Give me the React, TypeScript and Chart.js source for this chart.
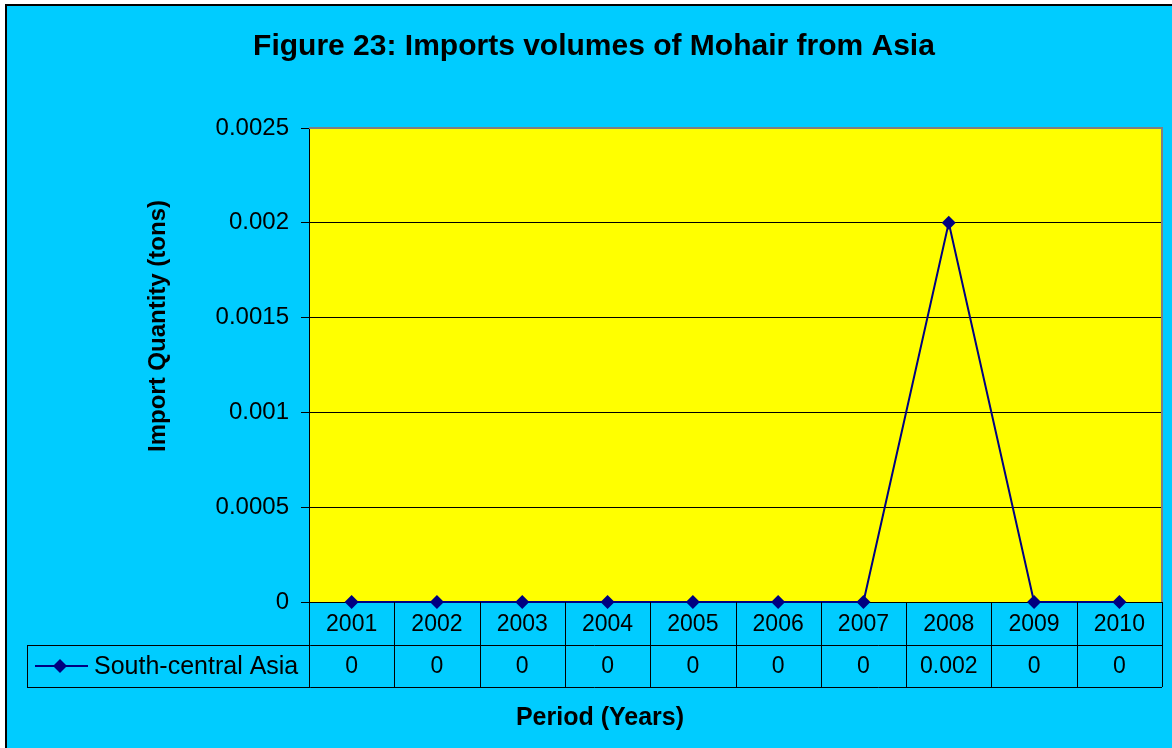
import React, { useEffect, useRef } from "react";
import { Chart, registerables } from "chart.js";

Chart.register(...registerables);

const categories = ["2001", "2002", "2003", "2004", "2005", "2006", "2007", "2008", "2009", "2010"];
const seriesName = "South-central Asia";
const values = [0, 0, 0, 0, 0, 0, 0, 0.002, 0, 0];
const valueLabels = ["0", "0", "0", "0", "0", "0", "0", "0.002", "0", "0"];
const yTickLabels = ["0", "0.0005", "0.001", "0.0015", "0.002", "0.0025"];
const titleText = "Figure 23: Imports volumes of Mohair from Asia";
const yTitle = "Import Quantity (tons)";
const xTitle = "Period (Years)";

const FONT = "'Liberation Sans', Arial, sans-serif";
const BG = "#00CCFF";
const PLOT = "#FFFF00";
const NAVY = "#000080";

const decorPlugin = {
  id: "decor",
  beforeDraw(chart: any) {
    const { ctx, width, height, chartArea } = chart;
    ctx.save();
    ctx.fillStyle = "#FFFFFF";
    ctx.fillRect(0, 0, width, height);
    ctx.fillStyle = BG;
    ctx.fillRect(6, 5, width, height);
    ctx.strokeStyle = "#000000";
    ctx.lineWidth = 2;
    ctx.beginPath();
    ctx.moveTo(6, height + 10);
    ctx.lineTo(6, 5);
    ctx.lineTo(width + 10, 5);
    ctx.stroke();
    ctx.fillStyle = PLOT;
    ctx.fillRect(chartArea.left, chartArea.top, chartArea.right - chartArea.left, chartArea.bottom - chartArea.top);
    ctx.restore();
  },
  afterDraw(chart: any) {
    const { ctx, chartArea } = chart;
    const xs = chart.scales.x;
    ctx.save();
    ctx.strokeStyle = "#808080";
    ctx.lineWidth = 2;
    ctx.beginPath();
    ctx.moveTo(chartArea.left, chartArea.top);
    ctx.lineTo(chartArea.right, chartArea.top);
    ctx.lineTo(chartArea.right, chartArea.bottom);
    ctx.stroke();

    ctx.fillStyle = "#000000";
    ctx.textAlign = "center";
    ctx.textBaseline = "middle";
    ctx.font = `bold 30px ${FONT}`;
    ctx.fillText(titleText, 594, 47);

    ctx.save();
    ctx.translate(158, 326);
    ctx.rotate(-Math.PI / 2);
    ctx.font = `bold 24px ${FONT}`;
    ctx.fillText(yTitle, 0, 0);
    ctx.restore();

    ctx.font = `bold 25px ${FONT}`;
    ctx.fillText(xTitle, 600, 718);

    const n = categories.length;
    const colW = (chartArea.right - chartArea.left) / n;
    const top = chartArea.bottom;
    const r1 = top + 43;
    const r2 = top + 85;
    const tableLeft = 27;
    ctx.strokeStyle = "#000000";
    ctx.lineWidth = 1;
    ctx.beginPath();
    for (let i = 0; i <= n; i++) {
      const x = Math.round(chartArea.left + i * colW) + 0.5;
      ctx.moveTo(x, top);
      ctx.lineTo(x, r2);
    }
    ctx.moveTo(tableLeft + 0.5, r1);
    ctx.lineTo(tableLeft + 0.5, r2);
    ctx.moveTo(tableLeft, r1 + 0.5);
    ctx.lineTo(chartArea.right, r1 + 0.5);
    ctx.moveTo(tableLeft, r2 + 0.5);
    ctx.lineTo(chartArea.right, r2 + 0.5);
    ctx.stroke();

    ctx.font = `23px ${FONT}`;
    ctx.fillStyle = "#000000";
    for (let i = 0; i < n; i++) {
      const cx = xs.getPixelForValue(i);
      ctx.fillText(categories[i], cx, (top + r1) / 2 + 1);
      ctx.fillText(valueLabels[i], cx, (r1 + r2) / 2 + 1);
    }

    const ly = (r1 + r2) / 2;
    ctx.strokeStyle = NAVY;
    ctx.lineWidth = 2;
    ctx.beginPath();
    ctx.moveTo(35, ly);
    ctx.lineTo(88, ly);
    ctx.stroke();
    ctx.fillStyle = NAVY;
    ctx.beginPath();
    ctx.moveTo(60, ly - 7);
    ctx.lineTo(67, ly);
    ctx.lineTo(60, ly + 7);
    ctx.lineTo(53, ly);
    ctx.closePath();
    ctx.fill();
    ctx.fillStyle = "#000000";
    ctx.textAlign = "left";
    ctx.font = `25px ${FONT}`;
    ctx.fillText(seriesName, 94, ly + 1);
    ctx.restore();
  },
};

export default function App() {
  const ref = useRef<HTMLCanvasElement>(null);
  useEffect(() => {
    if (!ref.current) return;
    const chart = new Chart(ref.current, {
      type: "line",
      data: {
        labels: categories,
        datasets: [
          {
            label: seriesName,
            data: values,
            borderColor: NAVY,
            backgroundColor: NAVY,
            borderWidth: 2,
            pointStyle: "rectRot",
            pointRadius: 7,
            pointBorderWidth: 0,
            pointBackgroundColor: NAVY,
            tension: 0,
            clip: false as any,
          },
        ],
      },
      options: {
        responsive: false,
        animation: false,
        devicePixelRatio: 1,
        layout: { padding: { left: 0, top: 128, right: 10, bottom: 146 } },
        plugins: { legend: { display: false }, title: { display: false }, tooltip: { enabled: false } },
        scales: {
          x: { display: false, offset: true },
          y: {
            min: 0,
            max: 0.0025,
            afterFit: (s: any) => {
              s.width = 309;
            },
            ticks: {
              stepSize: 0.0005,
              padding: 12,
              color: "#000000",
              font: { family: FONT, size: 24 },
              callback: (_v: any, i: number) => yTickLabels[i],
            },
            grid: {
              color: (c: any) => (c.index === yTickLabels.length - 1 ? "#808080" : "#000000"),
              lineWidth: 1,
              tickLength: 8,
              tickColor: "#000000",
            },
            border: { color: "#000000", width: 1 },
          },
        },
      },
      plugins: [decorPlugin],
    });
    return () => chart.destroy();
  }, []);
  return (
    <div style={{ position: "absolute", left: 0, top: 0, width: 1172, height: 748 }}>
      <canvas ref={ref} width={1172} height={748} />
    </div>
  );
}
